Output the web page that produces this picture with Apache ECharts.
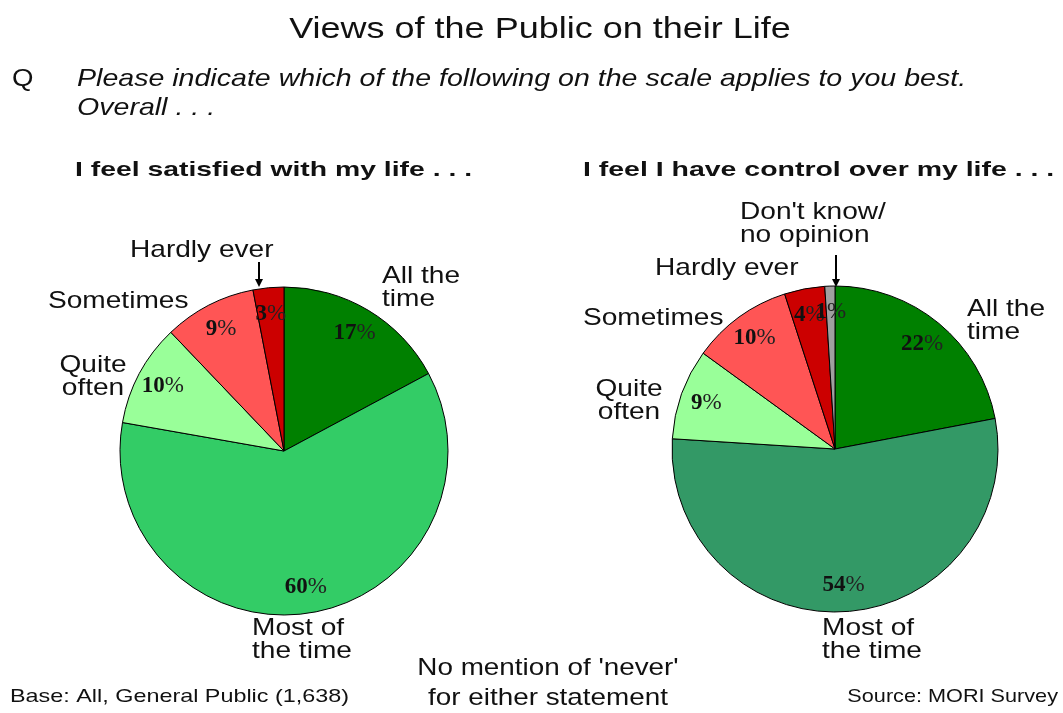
<!DOCTYPE html>
<html>
<head>
<meta charset="utf-8">
<script src="https://cdn.jsdelivr.net/npm/echarts@6/dist/echarts.min.js"></script>
<style>
  html, body { margin: 0; padding: 0; background: #fff; }
  #chart { width: 1063px; height: 713px; }
</style>
</head>
<body>
<div id="chart"></div>
<script>
// data
const satisfiedCategories = ['All the time', 'Most of the time', 'Quite often', 'Sometimes', 'Hardly ever'];
const satisfiedValues = [17, 60, 10, 9, 3];
const controlCategories = ['All the time', 'Most of the time', 'Quite often', 'Sometimes', 'Hardly ever', "Don't know/no opinion"];
const controlValues = [22, 54, 9, 10, 4, 1];

const satisfiedColors = ['#008000', '#33cc66', '#99ff99', '#ff5555', '#cc0000'];
const controlColors = ['#008000', '#339966', '#99ff99', '#ff5555', '#cc0000', '#a0a0a0'];

const SANS = 'Liberation Sans, Arial, sans-serif';
const SERIF = 'Liberation Serif, Times New Roman, serif';

function toData(cats, vals, colors) {
  return cats.map(function (c, i) {
    return { name: c, value: vals[i], itemStyle: { color: colors[i] } };
  });
}

// slice series + a transparent ring carrying the % labels near the rim
function pieSeries(cats, vals, colors, center, r) {
  return [
    {
      type: 'pie',
      center: center,
      radius: r,
      startAngle: 90,
      silent: true,
      label: { show: false },
      labelLine: { show: false },
      itemStyle: { borderColor: '#000', borderWidth: 1 },
      data: toData(cats, vals, colors)
    },
    {
      type: 'pie',
      center: center,
      radius: [r * 0.64, r],
      startAngle: 90,
      silent: true,
      avoidLabelOverlap: false,
      labelLayout: { hideOverlap: false },
      label: {
        show: true,
        position: 'inside',
        formatter: '{n|{c}}{p|%}',
        rich: {
          n: { fontFamily: SERIF, fontWeight: 'bold', fontSize: 23, color: '#111' },
          p: { fontFamily: SERIF, fontWeight: 'normal', fontSize: 23, color: '#222' }
        }
      },
      labelLine: { show: false },
      data: cats.map(function (c, i) {
        return { name: c, value: vals[i], itemStyle: { color: 'transparent' } };
      })
    }
  ];
}

function txt(x, y, s, opt, sx) {
  return {
    type: 'text',
    x: x,
    y: y,
    scaleX: sx || 1.17,
    style: Object.assign({
      text: s,
      fontFamily: SANS,
      fontSize: 24,
      fill: '#111',
      textVerticalAlign: 'middle',
      lineHeight: 23
    }, opt || {})
  };
}

function arrow(x, y1, y2) {
  return [
    { type: 'line', shape: { x1: x, y1: y1, x2: x, y2: y2 - 6 }, style: { stroke: '#000', lineWidth: 2 } },
    { type: 'polygon', shape: { points: [[x - 4, y2 - 8], [x + 4, y2 - 8], [x, y2]] }, style: { fill: '#000' } }
  ];
}

let myChart = echarts.init(document.getElementById('chart'));
myChart.setOption({
  backgroundColor: '#fff',
  animation: false,
  series: [].concat(
    pieSeries(satisfiedCategories, satisfiedValues, satisfiedColors, [284, 451], 164),
    pieSeries(controlCategories, controlValues, controlColors, [835, 449], 163)
  ),
  graphic: [
    txt(540, 30, 'Views of the Public on their Life', { fontSize: 30, textAlign: 'center' }, 1.2),
    txt(12, 79, 'Q', { fontSize: 24 }, 1.15),
    txt(77, 79, 'Please indicate which of the following on the scale applies to you best.', { fontStyle: 'italic', fontSize: 24 }, 1.19),
    txt(77, 108, 'Overall . . .', { fontStyle: 'italic', fontSize: 24 }, 1.19),
    txt(75, 170, 'I feel satisfied with my life . . .', { fontWeight: 'bold', fontSize: 21 }, 1.35),
    txt(583, 170, 'I feel I have control over my life . . .', { fontWeight: 'bold', fontSize: 21 }, 1.355),

    // left pie names
    txt(130, 250, 'Hardly ever'),
    txt(382, 288, 'All the\ntime'),
    txt(48, 301, 'Sometimes'),
    txt(93, 377, 'Quite\noften', { textAlign: 'center' }),
    txt(252, 640, 'Most of\nthe time'),

    // right pie names
    txt(740, 224, "Don't know/\nno opinion"),
    txt(655, 268, 'Hardly ever'),
    txt(583, 318, 'Sometimes'),
    txt(967, 321, 'All the\ntime'),
    txt(629, 401, 'Quite\noften', { textAlign: 'center' }),
    txt(822, 640, 'Most of\nthe time'),

    // footer
    txt(548, 668, "No mention of 'never'", { textAlign: 'center' }, 1.16),
    txt(548, 698, 'for either statement', { textAlign: 'center' }, 1.16),
    txt(10, 697, 'Base: All, General Public (1,638)', { fontSize: 19 }, 1.23),
    txt(1058, 697, 'Source: MORI Survey', { fontSize: 19, textAlign: 'right' }, 1.14)
  ].concat(arrow(259, 262, 287), arrow(836, 255, 287))
});
window.addEventListener('resize', function () {
  myChart.resize();
});
</script>
</body>
</html>
